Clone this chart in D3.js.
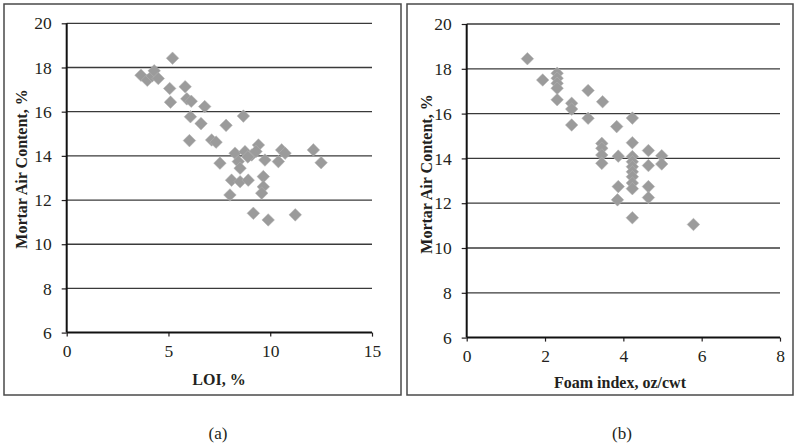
<!DOCTYPE html>
<html>
<head>
<meta charset="utf-8">
<script src="https://cdn.jsdelivr.net/npm/d3@7"></script>
<style>
  html, body { margin: 0; padding: 0; background: #fff; }
  svg { display: block; }
  text { font-family: "Liberation Serif", "DejaVu Serif", serif; fill: #231f20; }
</style>
</head>
<body>
<svg id="chart" width="797" height="448"></svg>
<script>
// ---------- data ----------
const loiX = [3.65, 3.96, 4.2, 4.3, 4.5, 5.2, 5.06, 5.1, 5.82, 5.9, 6.12, 6.08, 6.78, 6.6, 6.03, 7.12, 7.34, 7.83, 8.68,
  7.53, 8.27, 8.76, 9.09, 9.42, 9.74, 8.43, 8.52, 8.1, 8.52, 8.92, 9.66, 9.66, 9.58, 8.02, 10.56, 10.73, 10.4, 12.12, 12.5,
  9.17, 9.9, 11.23, 8.9, 9.3];
const loiY = [17.65, 17.42, 17.62, 17.85, 17.5, 18.42, 17.05, 16.43, 17.13, 16.58, 16.47, 15.77, 16.23, 15.46, 14.69, 14.72, 14.62, 15.38, 15.8,
  13.67, 14.12, 14.19, 14.04, 14.49, 13.81, 13.74, 13.44, 12.9, 12.83, 12.9, 13.06, 12.6, 12.31, 12.23, 14.27, 14.12, 13.74, 14.27, 13.69,
  11.4, 11.1, 11.33, 13.95, 14.2];

const foamX = [1.55, 1.94, 2.31, 2.31, 2.31, 2.31, 2.31, 2.68, 2.68, 2.68, 3.1, 3.1, 3.47, 3.83, 4.23,
  3.45, 3.45, 3.45, 3.45, 3.87, 4.23, 4.23, 4.23, 4.23, 4.23, 4.23, 4.23, 4.23, 4.64, 4.64, 4.98, 4.98,
  3.87, 3.85, 4.64, 4.64, 4.23, 5.79];
const foamY = [18.45, 17.5, 17.8, 17.58, 17.35, 17.13, 16.62, 16.46, 16.2, 15.49, 17.03, 15.79, 16.53, 15.42, 15.8,
  14.67, 14.45, 14.15, 13.78, 14.1, 14.7, 14.08, 13.85, 13.63, 13.4, 13.18, 12.9, 12.65, 14.35, 13.68, 14.12, 13.75,
  12.74, 12.15, 12.74, 12.25, 11.35, 11.05];

const yTicks = [6, 8, 10, 12, 14, 16, 18, 20];
const loiTicks = [0, 5, 10, 15];
const foamTicks = [0, 2, 4, 6, 8];
const yTitle = "Mortar Air Content, %";
const panelTitles = ["LOI, %", "Foam index, oz/cwt"];
const panelTags = ["(a)", "(b)"];

// ---------- drawing ----------
const svg = d3.select("#chart");
svg.append("rect").attr("width", 797).attr("height", 448).attr("fill", "#fff");

const panels = [
  { box: [4, 4, 397, 391], xs: d3.scaleLinear().domain([0, 15]).range([66.7, 372]),
    ys: d3.scaleLinear().domain([6, 20]).range([332.6, 23.3]),
    xv: loiX, yv: loiY, ticks: loiTicks, title: panelTitles[0], tag: panelTags[0],
    ylab: [27, 169], xlab: [219, 385], tagPos: [218, 439], xtickY: 359 },
  { box: [407, 4, 386, 391], xs: d3.scaleLinear().domain([0, 8]).range([466.7, 780]),
    ys: d3.scaleLinear().domain([6, 20]).range([337.6, 24]),
    xv: foamX, yv: foamY, ticks: foamTicks, title: panelTitles[1], tag: panelTags[1],
    ylab: [432, 174], xlab: [620, 388], tagPos: [622, 439], xtickY: 366 }
];

const diamond = "M0,-6.3L6.3,0L0,6.3L-6.3,0Z";

panels.forEach(p => {
  const g = svg.append("g");
  g.append("rect").attr("x", p.box[0]).attr("y", p.box[1]).attr("width", p.box[2]).attr("height", p.box[3])
    .attr("fill", "none").attr("stroke", "#4a4a4a").attr("stroke-width", 1.5);

  const [x0, x1] = p.xs.range();
  // gridlines
  g.selectAll("line.grid").data(yTicks.filter(t => t > 6)).enter().append("line")
    .attr("x1", x0).attr("x2", x1)
    .attr("y1", d => p.ys(d)).attr("y2", d => p.ys(d))
    .attr("stroke", "#3a3a3a").attr("stroke-width", 1.3);

  // y axis
  const yAxis = d3.axisLeft(p.ys).tickValues(yTicks).tickSize(5).tickPadding(10).tickFormat(d3.format("d"));
  const ya = g.append("g").attr("transform", `translate(${x0},0)`).call(yAxis);
  ya.select(".domain").remove();
  ya.selectAll(".tick line").attr("stroke", "#231f20").attr("stroke-width", 1.2);
  ya.selectAll(".tick text").attr("font-size", 17.5).attr("font-family", "Liberation Serif").attr("fill", "#231f20");

  // x axis
  const xAxis = d3.axisBottom(p.xs).tickValues(p.ticks).tickSize(4).tickPadding(8).tickFormat(d3.format("d"));
  const xa = g.append("g").attr("transform", `translate(0,${p.ys(6)})`).call(xAxis);
  xa.select(".domain").remove();
  xa.selectAll(".tick line").attr("stroke", "#231f20").attr("stroke-width", 1.2);
  xa.selectAll(".tick text").attr("font-size", 17.5).attr("font-family", "Liberation Serif").attr("fill", "#231f20");

  // axis lines
  g.append("line").attr("x1", x0).attr("x2", x0).attr("y1", p.ys(20)).attr("y2", p.ys(6))
    .attr("stroke", "#111").attr("stroke-width", 2);
  g.append("line").attr("x1", x0).attr("x2", x1).attr("y1", p.ys(6)).attr("y2", p.ys(6))
    .attr("stroke", "#111").attr("stroke-width", 2);

  // points
  g.selectAll("path.pt").data(p.xv.map((v, i) => [v, p.yv[i]])).enter().append("path")
    .attr("class", "pt").attr("d", diamond)
    .attr("transform", d => `translate(${p.xs(d[0])},${p.ys(d[1])})`)
    .attr("fill", "#9b9b9b").attr("stroke", "#b4b4b4").attr("stroke-width", 0.5);

  // titles
  g.append("text").attr("transform", `translate(${p.ylab[0]},${p.ylab[1]}) rotate(-90)`)
    .attr("text-anchor", "middle").attr("font-weight", "bold").attr("font-size", 16).text(yTitle);
  g.append("text").attr("x", p.xlab[0]).attr("y", p.xlab[1])
    .attr("text-anchor", "middle").attr("font-weight", "bold").attr("font-size", 16).text(p.title);
  g.append("text").attr("x", p.tagPos[0]).attr("y", p.tagPos[1])
    .attr("text-anchor", "middle").attr("font-size", 17).text(p.tag);
});
</script>
</body>
</html>
